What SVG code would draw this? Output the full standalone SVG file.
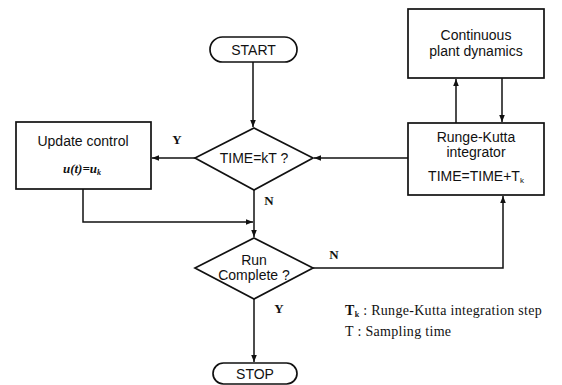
<svg xmlns="http://www.w3.org/2000/svg" width="562" height="385" viewBox="0 0 562 385">
<defs>
<marker id="ah" viewBox="0 0 10 10" refX="10" refY="5" markerWidth="7" markerHeight="7" markerUnits="userSpaceOnUse" orient="auto">
<path d="M0,1 L10,5 L0,9 z" fill="#111"/>
</marker>
<style>
.shape{fill:#fff;stroke:#111;stroke-width:1.7}
.t{font-family:"Liberation Sans",Arial,sans-serif;font-size:14px;fill:#111;text-anchor:middle}
.lbl{font-family:"Liberation Serif","Times New Roman",serif;font-size:13px;font-weight:bold;fill:#111;text-anchor:middle}
.leg{font-family:"Liberation Serif","Times New Roman",serif;font-size:14px;letter-spacing:0.3px;fill:#111}
.c{fill:none;stroke:#111;stroke-width:1.5;marker-end:url(#ah)}
</style>
</defs>
<rect width="562" height="385" fill="#fff"/>
<g id="connectors">
<path class="c" d="M253,62 V127"/>
<path class="c" d="M195,158 H152"/>
<path class="c" d="M83,189 V222 H253"/>
<path class="c" d="M254,190 V237"/>
<path class="c" d="M313,268 H503 V196"/>
<path class="c" d="M408,158 H314"/>
<path class="c" d="M456,123 V79"/>
<path class="c" d="M502,78 V122"/>
<path class="c" d="M254,299 V362"/>
</g>
<g id="start">
<rect class="shape" x="210" y="37" width="87" height="25" rx="12.5"/>
<text class="t" x="253.5" y="54.5">START</text>
</g>
<g id="time-check">
<polygon class="shape" points="254,128 313,158 254,190 195,158"/>
<text class="t" x="254" y="163">TIME=kT ?</text>
</g>
<g id="update-control">
<rect class="shape" x="16" y="122" width="135" height="67"/>
<text class="t" x="83" y="146">Update control</text>
<text class="lbl" x="82" y="173" style="font-style:italic">u(t)=u<tspan font-size="8" dy="2">k</tspan></text>
</g>
<g id="plant">
<rect class="shape" x="408" y="9" width="136" height="69"/>
<text class="t" x="476" y="40">Continuous</text>
<text class="t" x="476" y="56">plant dynamics</text>
</g>
<g id="rk">
<rect class="shape" x="408" y="123" width="136" height="72"/>
<text class="t" x="476" y="142">Runge-Kutta</text>
<text class="t" x="476" y="157">integrator</text>
<text class="t" x="476" y="181">TIME=TIME+T<tspan font-size="8" dy="2">k</tspan></text>
</g>
<g id="run-complete">
<polygon class="shape" points="254,238 313,268 254,299 195,268"/>
<text class="t" x="254" y="265">Run</text>
<text class="t" x="254" y="280">Complete ?</text>
</g>
<g id="stop">
<rect class="shape" x="213" y="363" width="84" height="21" rx="10.5"/>
<text class="t" x="255" y="379">STOP</text>
</g>
<g id="labels">
<text class="lbl" x="177" y="144">Y</text>
<text class="lbl" x="269" y="205">N</text>
<text class="lbl" x="334" y="259">N</text>
<text class="lbl" x="279" y="313">Y</text>
</g>
<g id="legend">
<text class="leg" x="345" y="315"><tspan font-weight="bold">T</tspan><tspan font-size="8" dy="2" font-weight="bold">k</tspan><tspan dy="-2"> : Runge-Kutta integration step</tspan></text>
<text class="leg" x="345" y="336">T  : Sampling time</text>
</g>
</svg>
